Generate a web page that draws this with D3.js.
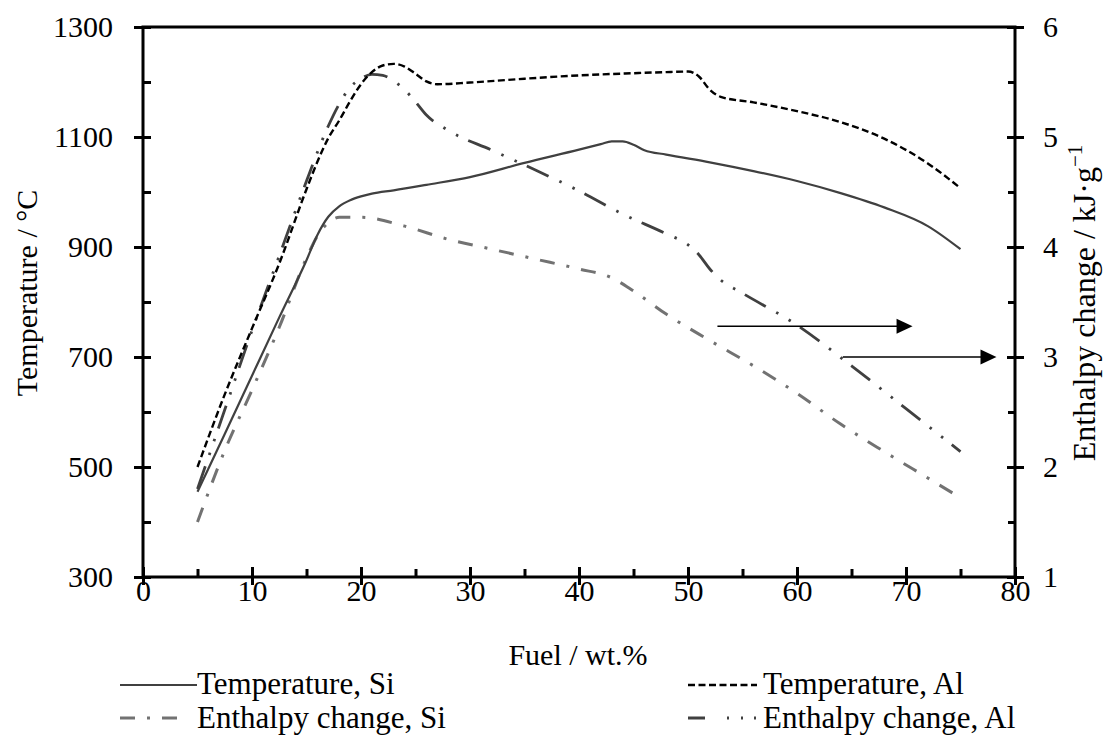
<!DOCTYPE html>
<html>
<head>
<meta charset="utf-8">
<script src="https://cdn.jsdelivr.net/npm/d3@7"></script>
<style>
  html, body { margin: 0; padding: 0; background: #fff; }
  svg { display: block; }
  svg text { font-family: "Liberation Serif", "Times New Roman", Times, "DejaVu Serif", serif; fill: #000; }
</style>
</head>
<body>
<svg id="chart" width="1107" height="747"></svg>
<script>
// ---------------- data ----------------
const tempSiX = [5, 7.5, 10, 12.5, 15, 16, 17, 18, 19, 20, 21, 23, 26, 30, 35, 40, 42, 43, 44, 45, 46, 48, 52, 56, 60, 64, 68, 72, 75];
const tempSiY = [455, 560, 666, 772, 876, 922, 955, 974, 985, 992, 997, 1003, 1013, 1027, 1053, 1077, 1087, 1092, 1092, 1086, 1076, 1068, 1054, 1038, 1020, 998, 972, 938, 896];

const tempAlX = [5, 7.5, 10, 12.5, 15, 16, 17, 18, 19, 20, 21, 22, 23, 24, 25, 26, 27, 30, 35, 40, 45, 48, 50, 51, 52, 53, 56, 60, 64, 68, 72, 75];
const tempAlY = [500, 632, 752, 870, 1005, 1055, 1098, 1130, 1165, 1196, 1218, 1230, 1233, 1228, 1215, 1201, 1196, 1199, 1206, 1212, 1216, 1218, 1219, 1210, 1186, 1173, 1163, 1147, 1127, 1097, 1052, 1007];

const enthSiX = [5, 7.5, 10, 12.5, 15, 16, 17, 18, 20, 24, 28, 32, 36, 40, 43, 45, 48, 52, 56, 60, 64, 68, 72, 75];
const enthSiY = [1.5, 2.15, 2.7, 3.27, 3.9, 4.1, 4.22, 4.27, 4.27, 4.19, 4.07, 3.98, 3.89, 3.8, 3.72, 3.6, 3.39, 3.15, 2.92, 2.67, 2.39, 2.14, 1.9, 1.72];

const enthAlX = [5, 7.5, 10, 12.5, 15, 17, 18, 19, 20, 21, 22, 23, 24, 25, 26, 28, 32, 36, 40, 44, 48, 50, 51, 52, 53, 55, 60, 65, 70, 75];
const enthAlY = [1.8, 2.52, 3.24, 3.92, 4.6, 5.1, 5.3, 5.45, 5.53, 5.57, 5.56, 5.51, 5.43, 5.32, 5.2, 5.06, 4.88, 4.7, 4.51, 4.3, 4.12, 4.02, 3.93, 3.8, 3.7, 3.58, 3.29, 2.92, 2.53, 2.14];

const xMajorTicks = [0, 10, 20, 30, 40, 50, 60, 70, 80];
const xMinorTicks = [5, 15, 25, 35, 45, 55, 65, 75];
const tLabelTicks = [300, 500, 700, 900, 1100, 1300];
const tMinorTicks = [400, 600, 800, 1000, 1200];
const hLabelTicks = [1, 2, 3, 4, 5, 6];
const hMinorTicks = [1.5, 2.5, 3.5, 4.5, 5.5];

// arrows: [from x, to x, value on right axis]
const arrowFromX = [52.7, 64.2];
const arrowToX = [70.6, 78.3];
const arrowH = [3.28, 3.0];

const legendLabels = ["Temperature, Si", "Temperature, Al", "Enthalpy change, Si", "Enthalpy change, Al"];

// ---------------- layout ----------------
const L = 143, R = 1015, T = 27, B = 577;
const FONT = '"Liberation Serif", "Times New Roman", Times, "DejaVu Serif", serif';
const svg = d3.select("#chart").attr("font-family", FONT);
const FS = 30;

const x = d3.scaleLinear().domain([0, 80]).range([L, R]);
const yT = d3.scaleLinear().domain([300, 1300]).range([B, T]);
const yH = d3.scaleLinear().domain([1, 6]).range([B, T]);

const zip = (xs, ys) => xs.map((d, i) => [d, ys[i]]);

const styles = {
  tempSi: { stroke: "#404040", width: 2.2, dash: null },
  tempAl: { stroke: "#000000", width: 2.4, dash: "7,3.5" },
  enthSi: { stroke: "#727272", width: 3, dash: "15,12,3,12" },
  enthAl: { stroke: "#404040", width: 2.8, dash: "24,12,2.5,12,2.5,11" }
};

function drawLine(data, yScale, st) {
  const line = d3.line().x(d => x(d[0])).y(d => yScale(d[1])).curve(d3.curveMonotoneX);
  const p = svg.append("path").datum(data)
    .attr("d", line)
    .attr("fill", "none")
    .attr("stroke", st.stroke)
    .attr("stroke-width", st.width)
    .attr("stroke-linejoin", "round");
  if (st.dash) p.attr("stroke-dasharray", st.dash);
}

drawLine(zip(enthSiX, enthSiY), yH, styles.enthSi);
drawLine(zip(enthAlX, enthAlY), yH, styles.enthAl);
drawLine(zip(tempSiX, tempSiY), yT, styles.tempSi);
drawLine(zip(tempAlX, tempAlY), yT, styles.tempAl);

// ---------------- axes ----------------
const AW = 3;
function styleAxis(g) {
  g.attr("font-family", FONT).attr("font-size", FS);
  g.select(".domain").remove();
  g.selectAll(".tick line").attr("stroke", "#000").attr("stroke-width", AW);
  g.selectAll(".tick text").attr("font-size", FS).attr("font-family", FONT).attr("fill", "#000");
}

// bottom
const gxMaj = svg.append("g").attr("transform", `translate(0,${B})`)
  .call(d3.axisBottom(x).tickValues(xMajorTicks).tickSize(8).tickPadding(6).tickFormat(d3.format("d")));
styleAxis(gxMaj);
gxMaj.selectAll(".tick line").attr("y1", -10).attr("y2", 8);
gxMaj.selectAll(".tick text").attr("dy", null).attr("y", 24);

const gxMin = svg.append("g").attr("transform", `translate(0,${B})`)
  .call(d3.axisBottom(x).tickValues(xMinorTicks).tickSize(-8).tickFormat(""));
styleAxis(gxMin);

// left
const gyMaj = svg.append("g").attr("transform", `translate(${L},0)`)
  .call(d3.axisLeft(yT).tickValues(tLabelTicks).tickSize(9).tickPadding(21).tickFormat(d3.format("d")));
styleAxis(gyMaj);
gyMaj.selectAll(".tick line").attr("x1", 8).attr("x2", -9);
gyMaj.selectAll(".tick text").attr("dy", "0.33em");

const gyMin = svg.append("g").attr("transform", `translate(${L},0)`)
  .call(d3.axisLeft(yT).tickValues(tMinorTicks).tickSize(-8).tickFormat(""));
styleAxis(gyMin);

// right
const gy2Maj = svg.append("g").attr("transform", `translate(${R},0)`)
  .call(d3.axisRight(yH).tickValues(hLabelTicks).tickSize(9).tickPadding(19).tickFormat(d3.format("d")));
styleAxis(gy2Maj);
gy2Maj.selectAll(".tick line").attr("x1", -8).attr("x2", 9);
gy2Maj.selectAll(".tick text").attr("dy", "0.33em");

const gy2Min = svg.append("g").attr("transform", `translate(${R},0)`)
  .call(d3.axisRight(yH).tickValues(hMinorTicks).tickSize(-7).tickFormat(""));
styleAxis(gy2Min);

// frame
svg.append("rect").attr("x", L).attr("y", T).attr("width", R - L).attr("height", B - T)
  .attr("fill", "none").attr("stroke", "#000").attr("stroke-width", AW);

// ---------------- arrows ----------------
arrowH.forEach((h, i) => {
  const yy = yH(h), x0 = x(arrowFromX[i]), x1 = x(arrowToX[i]);
  svg.append("line").attr("x1", x0).attr("x2", x1 - 14).attr("y1", yy).attr("y2", yy)
    .attr("stroke", "#000").attr("stroke-width", 1.5);
  svg.append("path").attr("d", `M${x1},${yy} L${x1 - 16},${yy - 7.5} L${x1 - 16},${yy + 7.5} Z`).attr("fill", "#000");
});

// ---------------- titles ----------------
svg.append("text").attr("x", 578).attr("y", 665).attr("text-anchor", "middle").attr("font-size", FS).text("Fuel / wt.%");
svg.append("text").attr("transform", "translate(37,293) rotate(-90)").attr("text-anchor", "middle").attr("font-size", FS).text("Temperature / °C");
const rt = svg.append("text").attr("transform", "translate(1095,303) rotate(-90)").attr("text-anchor", "middle").attr("font-size", 32);
rt.append("tspan").text("Enthalpy change / kJ·g");
rt.append("tspan").attr("font-size", 21).attr("dy", -13).text("−1");

// ---------------- legend ----------------
const LFS = 31;
const legItems = [
  { label: legendLabels[0], st: styles.tempSi, x0: 120, x1: 197, ly: 685, ty: 694, tx: 197, dash: null },
  { label: legendLabels[1], st: styles.tempAl, x0: 688, x1: 757, ly: 685, ty: 694, tx: 763, dash: "7,3.5" },
  { label: legendLabels[2], st: styles.enthSi, x0: 120, x1: 177, ly: 718, ty: 728, tx: 197, dash: "15,12,3,12" },
  { label: legendLabels[3], st: styles.enthAl, x0: 688, x1: 757, ly: 718, ty: 728, tx: 763, dash: "17,22,2,12,2,11,2,20" }
];
legItems.forEach(it => {
  const l = svg.append("line").attr("x1", it.x0).attr("x2", it.x1).attr("y1", it.ly).attr("y2", it.ly)
    .attr("stroke", it.st.stroke).attr("stroke-width", it.st.width);
  if (it.dash) l.attr("stroke-dasharray", it.dash);
  svg.append("text").attr("x", it.tx).attr("y", it.ty).attr("font-size", LFS).text(it.label);
});
</script>
</body>
</html>
